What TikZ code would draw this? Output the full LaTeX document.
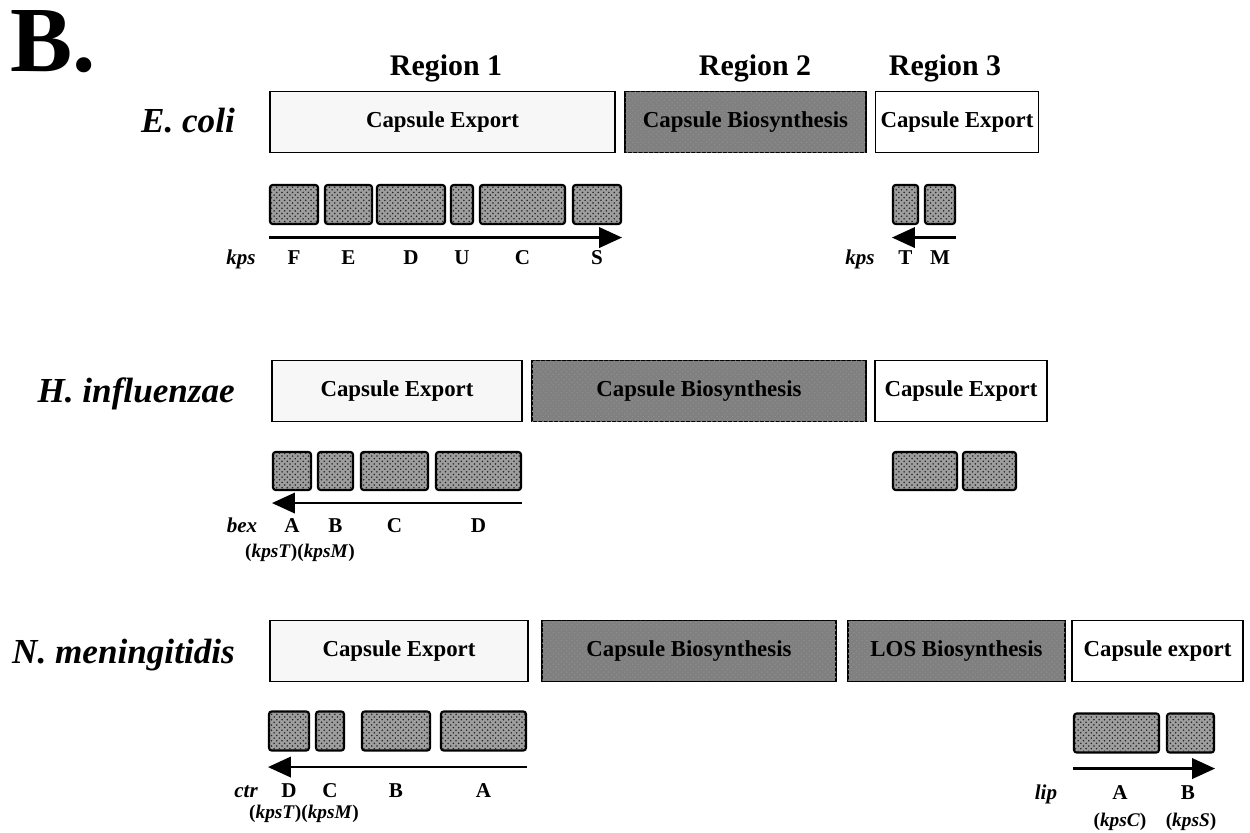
\documentclass[tikz,border=0pt]{standalone}
\usepackage{fontspec}
\setmainfont{Liberation Serif}
\usepackage{tikz}
\usetikzlibrary{arrows.meta, patterns}

\begin{document}
\begin{tikzpicture}[x=0.2mm, y=-0.2mm,
    regbox/.style={draw=black, line width=1.1pt, inner sep=0pt, minimum height=12.2mm,
      font=\fontsize{13}{15}\selectfont\bfseries},
    expbox/.style={regbox, fill=gray!6},
    plainbox/.style={regbox, fill=white},
    biobox/.style={regbox, fill=black!50,
      postaction={pattern=crosshatch dots, pattern color=black!45}},
    gene/.style={draw=black, line width=1.2pt, rounded corners=1.5pt, inner sep=0pt,
      minimum height=7.8mm, fill=black!38,
      postaction={pattern=crosshatch dots, pattern color=black!85}},
    dna/.style={line width=1.5pt, -{Triangle[length=13pt, width=11.5pt]}},
    glab/.style={anchor=base, font=\fontsize{12}{14}\selectfont\bfseries},
    locus/.style={anchor=base, font=\fontsize{12}{14}\selectfont\bfseries\itshape},
    homol/.style={anchor=base, font=\fontsize{11}{13}\selectfont\bfseries},
    species/.style={anchor=base east, font=\fontsize{20}{24}\selectfont\bfseries\itshape},
    reglab/.style={anchor=base, font=\fontsize{17}{20}\selectfont\bfseries}]
  \useasboundingbox (0,0) rectangle (1250,833);

  \node[anchor=base west, inner sep=0pt, font=\fontsize{53}{56}\selectfont\bfseries] (panel) at (10,72) {B.};
  \node[reglab] (reg1) at (446,76) {Region 1};
  \node[reglab] (reg2) at (755,76) {Region 2};
  \node[reglab] (reg3) at (945,76) {Region 3};

  % E. coli
  \node[species] (ecoli) at (241,133) {E. coli};
  \node[expbox, minimum width=69mm] (ecR1) at (442.5,122) {Capsule Export};
  \node[biobox, minimum width=48.2mm] (ecR2) at (745.5,122) {Capsule Biosynthesis};
  \node[plainbox, minimum width=32.6mm] (ecR3) at (957,122) {Capsule Export};
  \foreach \g/\xa/\xb in {F/270/318, E/325/372, D/377/445, U/451/473, C/480/565, S/573/621, T/893/918, M/925/955}
    \node[gene, minimum width={(\xb-\xa)*0.2mm}] (ec\g) at ({(\xa+\xb)/2},204.5) {};
  \draw[dna] ([yshift=-2.5mm]ecF.south west) -- ([yshift=-2.5mm]ecS.south east);
  \draw[dna] ([yshift=-2.5mm]ecM.south east) -- ([yshift=-2.5mm]ecT.south west);
  \node[locus] (ecl1) at (241,265) {kps};
  \node[locus] (ecl3) at (860,265) {kps};
  \foreach \g in {F,E,D,U,C,S,T,M}
    \node[glab] (ec\g-l) at (ec\g |- 0,265) {\g};

  % H. influenzae
  \node[species] (hinf) at (241,403) {H. influenzae};
  \node[expbox, minimum width=50mm] (hiR1) at (397,391) {Capsule Export};
  \node[biobox, minimum width=66.8mm] (hiR2) at (699,391) {Capsule Biosynthesis};
  \node[plainbox, minimum width=34.4mm] (hiR3) at (961,391) {Capsule Export};
  \foreach \g/\xa/\xb in {A/273/311, B/318/353, C/361/428, D/436/521, X/893/957, Y/963/1016}
    \node[gene, minimum width={(\xb-\xa)*0.2mm}, minimum height=7.6mm] (hi\g) at ({(\xa+\xb)/2},471) {};
  \draw[dna] ([yshift=-2.4mm]hiD.south east) -- ([yshift=-2.4mm]hiA.south west);
  \node[locus] (hil) at (242,533) {bex};
  \foreach \g in {A,B,C,D}
    \node[glab] (hi\g-l) at (hi\g |- 0,533) {\g};
  \node[homol] (hihom) at (300,558) {(\textit{kpsT})(\textit{kpsM})};

  % N. meningitidis
  \node[species] (nmen) at (241,663) {N. meningitidis};
  \node[expbox, minimum width=51.6mm] (nmR1) at (399,651) {Capsule Export};
  \node[biobox, minimum width=58.8mm] (nmR2) at (689,651) {Capsule Biosynthesis};
  \node[biobox, minimum width=43.4mm] (nmR3) at (956.5,651) {LOS Biosynthesis};
  \node[plainbox, minimum width=34.2mm] (nmR4) at (1157.5,651) {Capsule export};
  \foreach \g/\xa/\xb in {D/269/309, C/316/344, B/362/430, A/441/526}
    \node[gene, minimum width={(\xb-\xa)*0.2mm}] (nm\g) at ({(\xa+\xb)/2},731) {};
  \foreach \g/\xa/\xb in {A/1074/1159, B/1167/1214}
    \node[gene, minimum width={(\xb-\xa)*0.2mm}] (lip\g) at ({(\xa+\xb)/2},733) {};
  \draw[dna] ([yshift=-3.1mm]nmA.south east) -- ([yshift=-3.1mm]nmD.south west);
  \draw[dna] ([yshift=-3mm]lipA.south west) -- ([yshift=-3mm]lipB.south east);
  \node[locus] (nml) at (246,797) {ctr};
  \foreach \g in {D,C,B,A}
    \node[glab] (nm\g-l) at (nm\g |- 0,797) {\g};
  \node[homol] (nmhom) at (304,818) {(\textit{kpsT})(\textit{kpsM})};
  \node[locus] (lipl) at (1046,799) {lip};
  \node[glab] (lipA-l) at (1120,799) {A};
  \node[glab] (lipB-l) at (1188,799) {B};
  \node[homol] (lipAh) at (1120,826) {(\textit{kpsC})};
  \node[homol] (lipBh) at (1191,826) {(\textit{kpsS})};
\end{tikzpicture}
\end{document}
